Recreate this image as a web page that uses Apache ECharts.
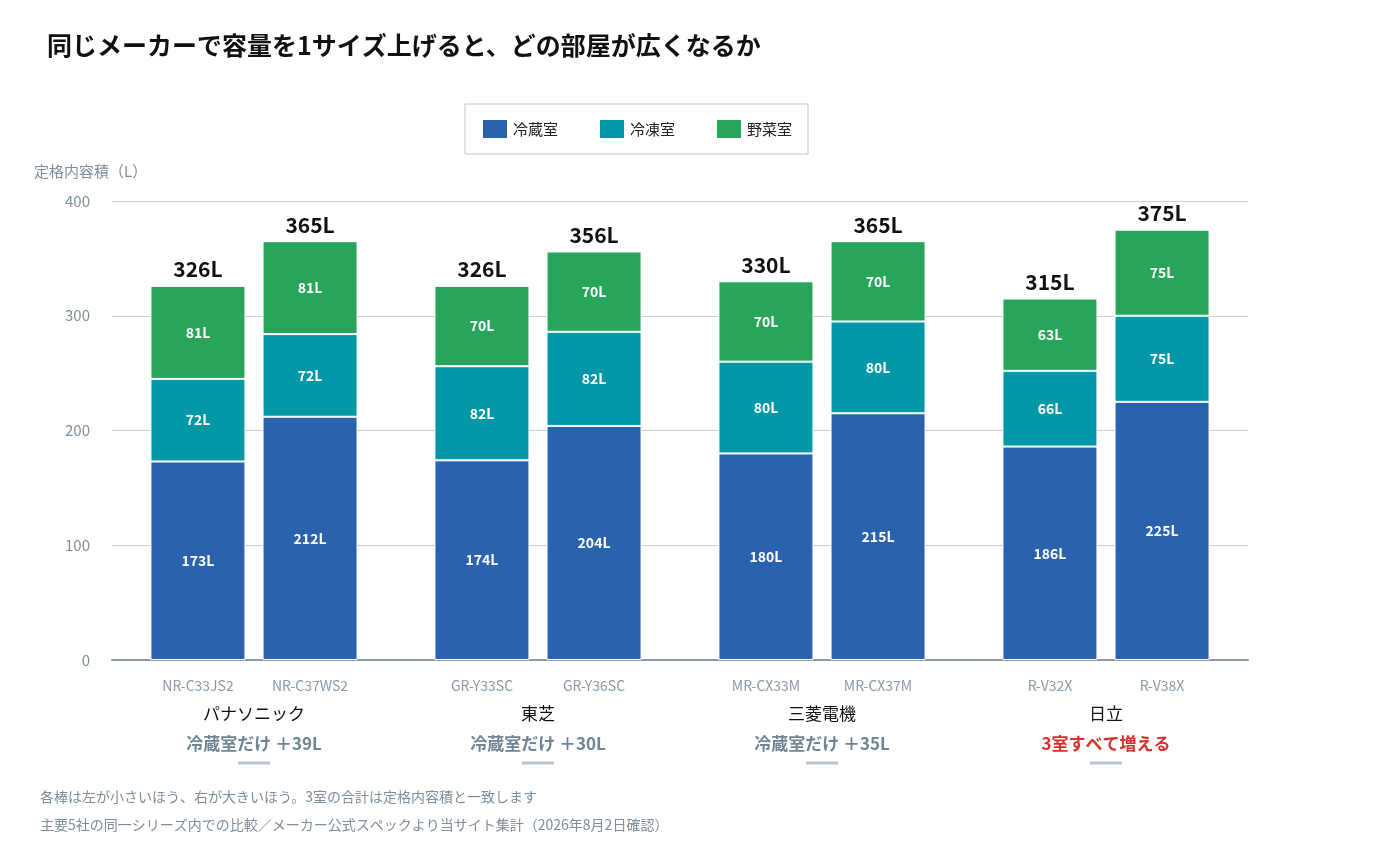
<!DOCTYPE html>
<html>
<head>
<meta charset="utf-8">
<script src="https://cdn.jsdelivr.net/npm/echarts@6/dist/echarts.min.js"></script>
<style>
    html, body { margin: 0; padding: 0; background: #fff; }
    #chart { width: 1400px; height: 850px; }
</style>
</head>
<body>
<div id="chart"></div>
<script>
var makers = ["パナソニック", "東芝", "三菱電機", "日立"];
var smallModels = ["NR-C33JS2", "GR-Y33SC", "MR-CX33M", "R-V32X"];
var largeModels = ["NR-C37WS2", "GR-Y36SC", "MR-CX37M", "R-V38X"];
var notes = ["冷蔵室だけ ＋39L", "冷蔵室だけ ＋30L", "冷蔵室だけ ＋35L", "3室すべて増える"];

var fridgeSmall = [173, 174, 180, 186];
var freezerSmall = [72, 82, 80, 66];
var vegSmall = [81, 70, 70, 63];
var totalSmall = [326, 326, 330, 315];

var fridgeLarge = [212, 204, 215, 225];
var freezerLarge = [72, 82, 80, 75];
var vegLarge = [81, 70, 70, 75];
var totalLarge = [365, 356, 365, 375];

var yTicks = [0, 100, 200, 300, 400];

var colors = { fridge: "#2a62ae", freezer: "#0097a7", veg: "#27a55a" };
var font = "'Noto Sans CJK JP', 'Noto Sans', sans-serif";

function partSeries(name, data, stack, color) {
    return {
        name: name,
        type: "bar",
        stack: stack,
        data: data,
        barWidth: 95,
        barGap: "18%",
        itemStyle: { color: color, borderColor: "#fff", borderWidth: 1 },
        label: {
            show: true,
            color: "#fff",
            fontSize: 14,
            fontWeight: "bold",
            fontFamily: font,
            formatter: "{c}L"
        }
    };
}

function totalSeries(stack, totals) {
    return {
        type: "bar",
        stack: stack,
        data: totals.map(function() { return 0; }),
        barWidth: 95,
        barGap: "18%",
        itemStyle: { color: "transparent" },
        label: {
            show: true,
            position: "top",
            distance: 6,
            color: "#111",
            fontSize: 21,
            fontWeight: "bold",
            fontFamily: font,
            formatter: function(p) { return totals[p.dataIndex] + "L"; }
        },
        tooltip: { show: false }
    };
}

var option = {
    textStyle: { fontFamily: font },
    title: {
        text: "同じメーカーで容量を1サイズ上げると、どの部屋が広くなるか",
        left: 42,
        top: 28,
        textStyle: { fontSize: 25, fontWeight: "bold", color: "#111", fontFamily: font }
    },
    legend: {
        data: ["冷蔵室", "冷凍室", "野菜室"],
        left: 465,
        top: 104,
        width: 390,
        padding: [14, 16, 14, 16],
        itemGap: 40,
        itemWidth: 26,
        itemHeight: 20,
        borderColor: "#b9c6d1",
        borderWidth: 1,
        icon: "rect",
        textStyle: { fontSize: 15, color: "#222", fontFamily: font }
    },
    grid: { left: 112, right: 152, top: 201, bottom: 190 },
    xAxis: {
        type: "category",
        data: makers,
        axisTick: { show: false },
        axisLine: { lineStyle: { color: "#8a9aa8", width: 2 } },
        axisLabel: {
            interval: 0,
            margin: 16,
            lineHeight: 28,
            formatter: function(v, i) {
                return "{m|" + smallModels[i] + "}{m|" + largeModels[i] + "}\n{k|" + v + "}\n" +
                    (i === 3 ? "{r|" : "{n|") + notes[i] + "}\n{u|}";
            },
            rich: {
                m: { width: 112, align: "center", color: "#8a9aa8", fontSize: 14, fontFamily: font, lineHeight: 20 },
                k: { color: "#111", fontSize: 17, fontFamily: font, lineHeight: 36 },
                n: { color: "#6f8494", fontSize: 17, fontWeight: "bold", fontFamily: font, lineHeight: 24 },
                r: { color: "#d9302c", fontSize: 17, fontWeight: "bold", fontFamily: font, lineHeight: 24 },
                u: { width: 32, height: 3, backgroundColor: "#b8c4d0", lineHeight: 14 }
            }
        }
    },
    yAxis: {
        type: "value",
        min: yTicks[0],
        max: yTicks[yTicks.length - 1],
        interval: 100,
        name: "定格内容積（L）",
        nameLocation: "end",
        nameGap: 22,
        nameTextStyle: { color: "#7d8e9c", fontSize: 15, align: "left", padding: [0, 0, 0, -78] },
        axisLabel: { color: "#7d8e9c", fontSize: 15, margin: 22 },
        splitLine: { lineStyle: { color: "#c6d1da" } }
    },
    series: [
        partSeries("冷蔵室", fridgeSmall, "s", colors.fridge),
        partSeries("冷凍室", freezerSmall, "s", colors.freezer),
        partSeries("野菜室", vegSmall, "s", colors.veg),
        totalSeries("s", totalSmall),
        partSeries("冷蔵室", fridgeLarge, "l", colors.fridge),
        partSeries("冷凍室", freezerLarge, "l", colors.freezer),
        partSeries("野菜室", vegLarge, "l", colors.veg),
        totalSeries("l", totalLarge)
    ],
    graphic: [
        {
            type: "text",
            left: 40,
            top: 790,
            style: { text: "各棒は左が小さいほう、右が大きいほう。3室の合計は定格内容積と一致します", fill: "#7d8e9c", fontSize: 14, fontFamily: font }
        },
        {
            type: "text",
            left: 40,
            top: 818,
            style: { text: "主要5社の同一シリーズ内での比較／メーカー公式スペックより当サイト集計（2026年8月2日確認）", fill: "#7d8e9c", fontSize: 14, fontFamily: font }
        }
    ]
};

var myChart = echarts.init(document.getElementById("chart"));
myChart.setOption(option);
</script>
</body>
</html>
